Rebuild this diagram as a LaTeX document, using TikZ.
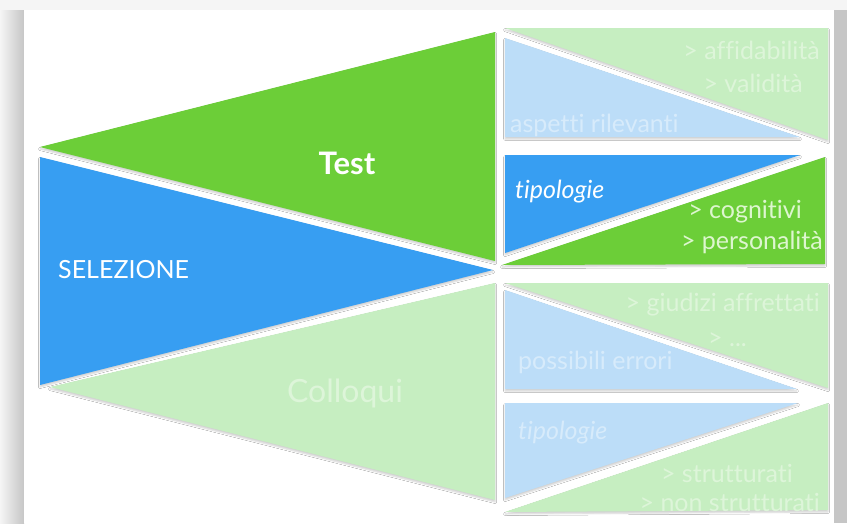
\documentclass[tikz,border=0pt]{standalone}
\usepackage{fontspec}
\setmainfont{Lato}[Ligatures=NoCommon]
\usepackage{tikz}
\usetikzlibrary{shadows.blur, positioning}
\definecolor{vgreen}{HTML}{6CCE38}
\definecolor{vblue}{HTML}{379EF2}
\definecolor{pgreen}{HTML}{C6EEC1}
\definecolor{pblue}{HTML}{BCDDF8}
\definecolor{fgreen}{HTML}{DDF5D9}
\definecolor{fblue}{HTML}{D7EBFB}
\definecolor{lgreen}{HTML}{DDF6CF}

\begin{document}
\begin{tikzpicture}[
            x=1pt, y=-1pt,
            wedge/.style={blur shadow={shadow xshift=0pt, shadow yshift=-2pt, shadow blur radius=1.5pt, shadow opacity=18}},
            bigtext/.style={inner sep=0pt, text=white, font=\fontsize{31}{34}\selectfont\bfseries},
            midtext/.style={inner sep=0pt, text=white, font=\fontsize{25}{28}\selectfont},
            subtext/.style={inner sep=0pt, font=\fontsize{25}{28}\selectfont}
        ]
        % page and its shadow
        \fill [gray!22] (0,0) rectangle (847,523);
        \shade [left color=gray!8, right color=gray!45] (0,10) rectangle (24,523);
        \fill [gray!8] (0,0) rectangle (847,10);
        \fill [gray!45] (834,10) rectangle (847,523);
        \fill [white] (24,10) rectangle (834,523);
        % left wedges
        \fill [vgreen, wedge] (40,147) -- (495,32) -- (495,261) -- cycle;
        \fill [vblue, wedge] (40,157) -- (493,270) -- (40,385) -- cycle;
        \fill [pgreen, wedge] (50,387) -- (495,283) -- (495,500) -- cycle;
        \node [bigtext] (test) at (347,163) {Test};
        \node [midtext, anchor=west] (sel) at (58,270) {SELEZIONE};
        \node [bigtext, text=fgreen, font=\fontsize{32}{34}\selectfont] (coll) at (345,393) {Colloqui};
        % test: aspetti rilevanti
        \fill [pgreen, wedge] (505,28) -- (828,28) -- (828,140) -- cycle;
        \fill [pblue, wedge] (505,38) -- (800,137) -- (505,137) -- cycle;
        \node [subtext, text=fgreen, anchor=east] (aff) at (820,50) {> affidabilità};
        \node [subtext, text=fgreen, anchor=east] (val) at (803,83) {> validità};
        \node [subtext, text=fblue, anchor=west] (asp) at (510,125) {aspetti rilevanti};
        % test: tipologie
        \fill [vblue, wedge] (505,155) -- (800,155) -- (505,253) -- cycle;
        \fill [vgreen, wedge] (502,265) -- (825,157) -- (825,264) -- cycle;
        \node [subtext, text=white, font=\fontsize{25}{28}\selectfont\itshape, anchor=west] (tipt) at (515,192) {tipologie};
        \node [subtext, text=lgreen, anchor=east] (cog) at (802,212) {> cognitivi};
        \node [subtext, text=lgreen, anchor=east] (pers) at (823,242) {> personalità};
        % colloqui: possibili errori
        \fill [pgreen, wedge] (505,283) -- (828,283) -- (828,388) -- cycle;
        \fill [pblue, wedge] (505,290) -- (797,389) -- (505,389) -- cycle;
        \node [subtext, text=fgreen, anchor=east] (giud) at (820,305) {> giudizi affrettati};
        \node [subtext, text=fgreen, anchor=west] (etc) at (708,340) {> ...};
        \node [subtext, text=fblue, anchor=west] (err) at (518,362) {possibili errori};
        % colloqui: tipologie
        \fill [pblue, wedge] (505,403) -- (798,403) -- (505,498) -- cycle;
        \fill [pgreen, wedge] (505,512) -- (828,403) -- (828,510) -- cycle;
        \node [subtext, text=fblue, font=\fontsize{25}{28}\selectfont\itshape, anchor=west] (tipc) at (518,433) {tipologie};
        \node [subtext, text=fgreen, anchor=east] (strut) at (793,473) {> strutturati};
        \node [subtext, text=fgreen, anchor=east] (nstrut) at (820,502) {> non strutturati};
    \end{tikzpicture}
\end{document}
